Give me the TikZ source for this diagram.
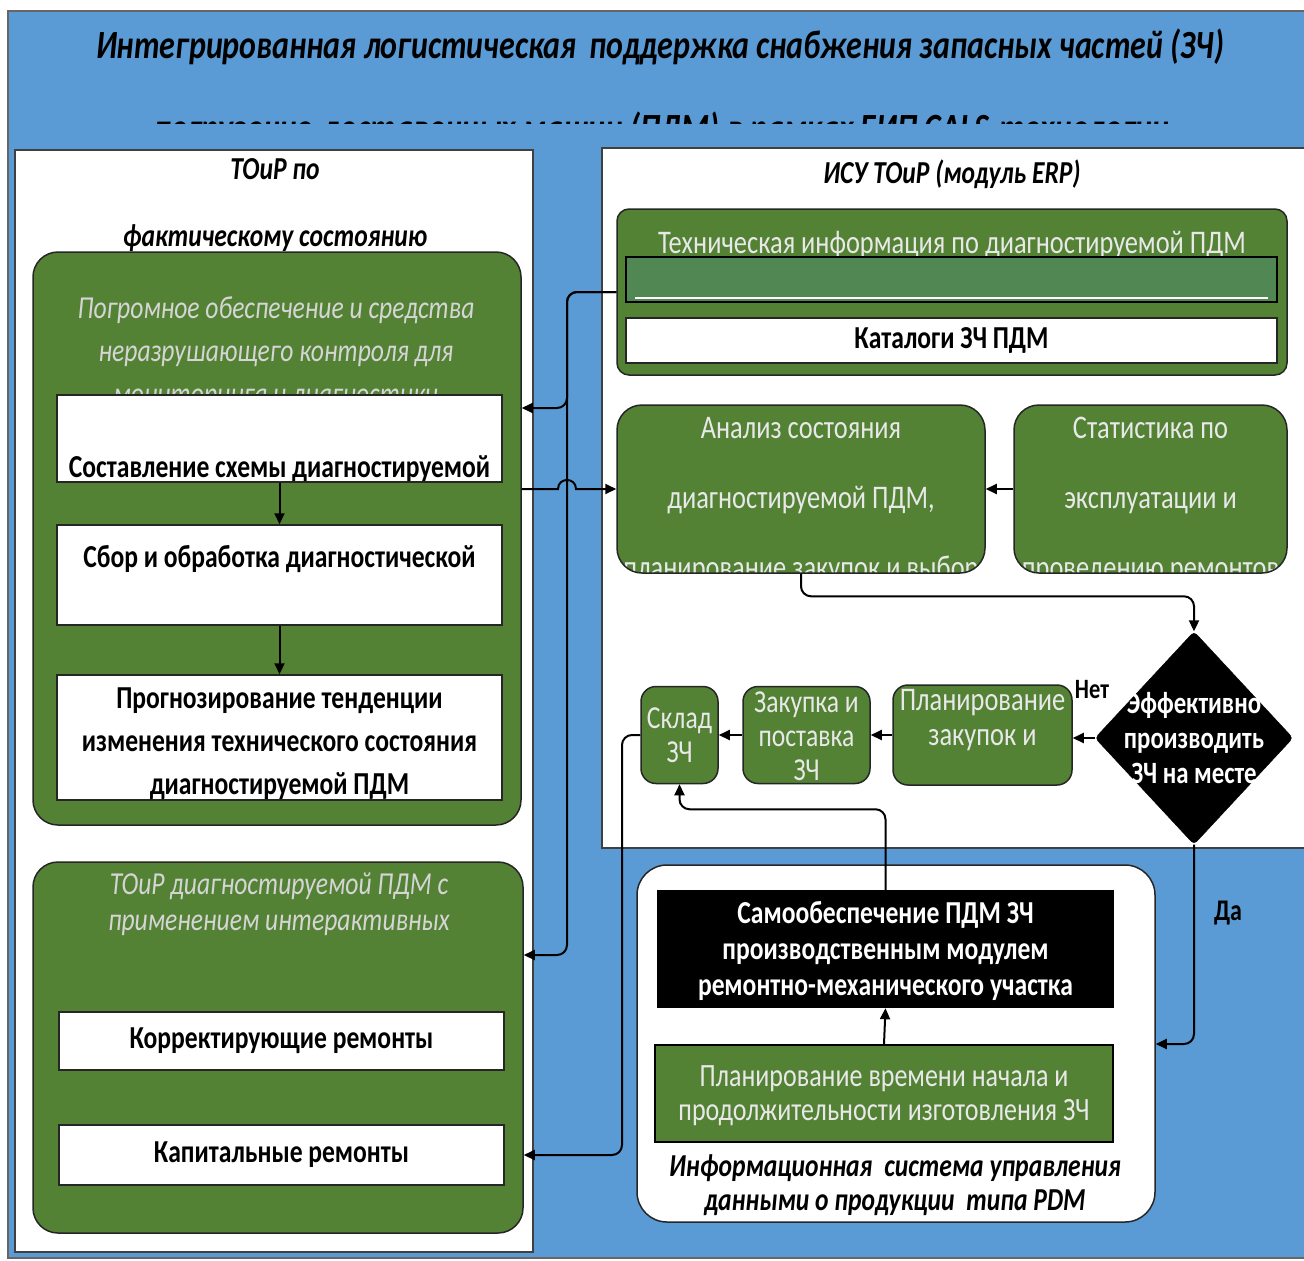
\documentclass[tikz,border=0pt]{standalone}
\usepackage{fontspec}
\setmainfont{Carlito}[FakeStretch=0.8]
\usetikzlibrary{arrows.meta,positioning,calc,shapes.geometric}

\definecolor{skyblue}{RGB}{91,155,213}
\definecolor{leafgreen}{RGB}{84,130,53}
\definecolor{bargreen}{RGB}{80,135,82}
\definecolor{paletext}{RGB}{232,232,232}

\tikzset{
	panel/.style={draw=black!75, fill=white, line width=1.5pt, inner sep=0pt},
	greenbox/.style={draw=black!85, fill=leafgreen, line width=1.5pt, inner sep=0pt, rounded corners=#1},
	greenbox/.default=25pt,
	whitebox/.style={draw=black!85, fill=white, line width=1.5pt, inner sep=0pt},
	pantitle/.style={font=\bfseries\itshape\fontsize{32}{67}\selectfont, align=center, anchor=base, inner sep=0pt},
	grtitle/.style={text=paletext!92!black, font=\itshape\fontsize{32}{43}\selectfont, align=center, anchor=base, inner sep=0pt},
	boxtext/.style={font=\bfseries\fontsize{32}{43}\selectfont, align=center, inner sep=0pt},
	lighttext/.style={text=paletext, font=\fontsize{33}{70}\selectfont, align=center, anchor=base, inner sep=0pt},
	arr/.style={draw=black, line width=2pt, -{Triangle[length=11pt,width=10pt]}},
}

\begin{document}
\begin{tikzpicture}[x=1pt,y=-1pt]
	\useasboundingbox (0,0) rectangle (1304,1261);
	\fill[white] (0,0) rectangle (1304,1261);
	\draw[fill=skyblue, draw=black!60, line width=2pt] (8,11) rectangle (1312,1258);

	% title
	\node[font=\bfseries\itshape\fontsize{40}{48}\selectfont, anchor=base] (title) at (660,58)
		{Интегрированная логистическая\hspace{6pt} поддержка снабжения запасных частей (ЗЧ)};
	\begin{scope}
		\clip (0,100) rectangle (1304,123);
		\node[font=\bfseries\itshape\fontsize{40}{48}\selectfont, anchor=base] (subtitle) at (662,141)
			{погрузочно-доставочных машин (ПДМ) в рамках ЕИП CALS-технологии};
	\end{scope}

	% panels
	\node[panel, minimum width=518pt, minimum height=1102pt] (leftpanel) at (274,701) {};
	\node[panel, minimum width=710pt, minimum height=700pt] (rightpanel) at (957,498) {};
	\node[pantitle] (lefttitle) at (275,246) {ТОиР по\\фактическому состоянию};
	\node[pantitle] (righttitle) at (952,183) {ИСУ ТОиР (модуль ERP)};

	% left column, upper block
	\node[greenbox, minimum width=488pt, minimum height=573pt] (sw) at (277,538.5) {};
	\node[grtitle] (swtitle) at (276,404)
		{Погромное обеспечение и средства\\неразрушающего контроля для\\мониторинга и диагностики};
	\node[whitebox, minimum width=445pt, minimum height=87pt,
		path picture={\node[boxtext, anchor=base] (schematext) at ([yshift=-38.5pt]path picture bounding box.center)
			{Составление схемы диагностируемой};}] (schema) at (279.5,438.5) {};
	\node[whitebox, minimum width=445pt, minimum height=100pt] (sbor) at (279.5,575) {};
	\node[boxtext, anchor=base] (sbortext) at (279.5,567) {Сбор и обработка диагностической};
	\node[whitebox, minimum width=445pt, minimum height=125pt] (progn) at (279.5,737.5) {};
	\node[boxtext, anchor=base] (progntext) at (279.5,794)
		{Прогнозирование тенденции\\изменения технического состояния\\диагностируемой ПДМ};
	\draw[arr] (schema.south) -- (sbor.north);
	\draw[arr] (sbor.south) -- (progn.north);

	% left column, lower block
	\node[greenbox, minimum width=490pt, minimum height=371pt] (sw2) at (278,1047.5) {};
	\node[grtitle, font=\itshape\fontsize{32}{36}\selectfont] (sw2title) at (279,930) {ТОиР диагностируемой ПДМ с\\применением интерактивных};
	\node[whitebox, boxtext, minimum width=445pt, minimum height=58pt] (korr) at (281.5,1041) {Корректирующие ремонты};
	\node[whitebox, boxtext, minimum width=445pt, minimum height=60pt] (kap) at (281.5,1155) {Капитальные ремонты};

	% ERP module
	\node[greenbox=12pt, minimum width=670pt, minimum height=166pt] (techinfo) at (952,292) {};
	\node[lighttext] (techtext) at (952,253) {Техническая информация по диагностируемой ПДМ};
	\node[draw=black, fill=bargreen, line width=1.5pt, inner sep=0pt, minimum width=651pt, minimum height=45pt] (bar) at (951.5,279.5) {};
	\draw[white, line width=2.5pt] ([xshift=10pt,yshift=5pt]bar.south west) -- ([xshift=-10pt,yshift=5pt]bar.south east);
	\node[whitebox, boxtext, minimum width=651pt, minimum height=45pt] (catalog) at (951.5,340.5) {Каталоги ЗЧ ПДМ};

	\node[greenbox, minimum width=368pt, minimum height=168pt,
		path picture={\node[lighttext] (analiztext) at ([yshift=-89pt]path picture bounding box.center)
			{Анализ состояния\\диагностируемой ПДМ,\\планирование закупок и выбор};}] (analiz) at (801,489) {};
	\node[greenbox, minimum width=273pt, minimum height=168pt,
		path picture={\node[lighttext] (stattext) at ([yshift=-89pt]path picture bounding box.center)
			{Статистика по\\эксплуатации и\\проведению ремонтов};}] (stat) at (1150.5,489) {};
	\draw[arr] (stat.west) -- (analiz.east);

	\node[diamond, fill=black, draw=black, rounded corners=4pt, inner sep=0pt, minimum width=198pt, minimum height=213pt] (dia) at (1194,738) {};
	\node[boxtext, text=white, font=\bfseries\fontsize{31}{35}\selectfont, anchor=base] (diatext) at (1194,783)
		{Эффективно\\производить\\ЗЧ на месте};
	\node[greenbox=15pt, minimum width=179pt, minimum height=100pt] (plan) at (982.5,735) {};
	\node[lighttext, font=\fontsize{33}{35}\selectfont] (plantext) at (982.5,745) {Планирование\\закупок и};
	\node[greenbox=15pt, minimum width=127pt, minimum height=97pt] (zakup) at (806.5,735) {};
	\node[lighttext, font=\fontsize{32}{34}\selectfont] (zakuptext) at (806.5,780) {Закупка и\\поставка\\ЗЧ};
	\node[greenbox=15pt, minimum width=77pt, minimum height=97pt] (sklad) at (679.5,735) {};
	\node[lighttext, font=\fontsize{32}{34}\selectfont] (skladtext) at (679.5,762) {Склад\\ЗЧ};
	\node[font=\bfseries\fontsize{28}{30}\selectfont] (no) at (1092,690) {Нет};

	% PDM system
	\node[whitebox, rounded corners=30pt, minimum width=518pt, minimum height=357pt] (pdm) at (896,1043.5) {};
	\node[fill=black, inner sep=0pt, minimum width=457pt, minimum height=118pt] (samo) at (885.5,949) {};
	\node[boxtext, text=white, font=\bfseries\fontsize{32}{36}\selectfont, anchor=base] (samotext) at (885.5,995)
		{Самообеспечение ПДМ ЗЧ\\производственным модулем\\ремонтно-механического участка};
	\node[draw=black, fill=leafgreen, line width=2pt, inner sep=0pt, minimum width=458pt, minimum height=97pt] (plantime) at (884,1093.5) {};
	\node[lighttext, font=\fontsize{32.5}{34}\selectfont] (plantimetext) at (884,1120)
		{Планирование времени начала и\\продолжительности изготовления ЗЧ};
	\node[pantitle, font=\bfseries\itshape\fontsize{32}{34}\selectfont] (pdmtext) at (895,1210)
		{Информационная\hspace{6pt} система управления\\данными о продукции\hspace{6pt} типа PDM};
	\node[font=\bfseries\fontsize{30}{32}\selectfont] (yes) at (1228,913) {Да};

	% connectors
	\coordinate (busA) at (567,0);
	\coordinate (busB) at (622,0);
	\draw[arr, rounded corners=10pt] (techinfo.west) -| (busA |- 0,408) -- (sw.east |- 0,408);
	\draw[arr, rounded corners=10pt] (techinfo.west) -| (busA |- 0,955) -- (sw2.east |- 0,955);
	\draw[arr] (sw.east |- analiz.west) -- ($(busA |- analiz.west)+(-9,0)$)
		.. controls +(0,-12) and +(0,-12) .. ($(busA |- analiz.west)+(9,0)$) -- (analiz.west);
	\draw[arr, rounded corners=10pt] (analiz.south) |- ([yshift=35pt]dia.north) -- (dia.north);
	\draw[arr] (dia.west) -- (plan.east |- dia.west);
	\draw[arr] (plan.west) -- (zakup.east);
	\draw[arr] (zakup.west) -- (sklad.east);
	\draw[arr, rounded corners=10pt] (sklad.west) -| (busB |- kap.east) -- (sw2.east |- kap.east);
	\draw[arr, rounded corners=10pt] (dia.south) |- (pdm.east |- plantime.north);
	\draw[arr] (plantime.north) -- (samo.south);
	\draw[arr, rounded corners=10pt] (samo.north) |- ([yshift=-25pt]sklad.south) -- (sklad.south);
\end{tikzpicture}
\end{document}
